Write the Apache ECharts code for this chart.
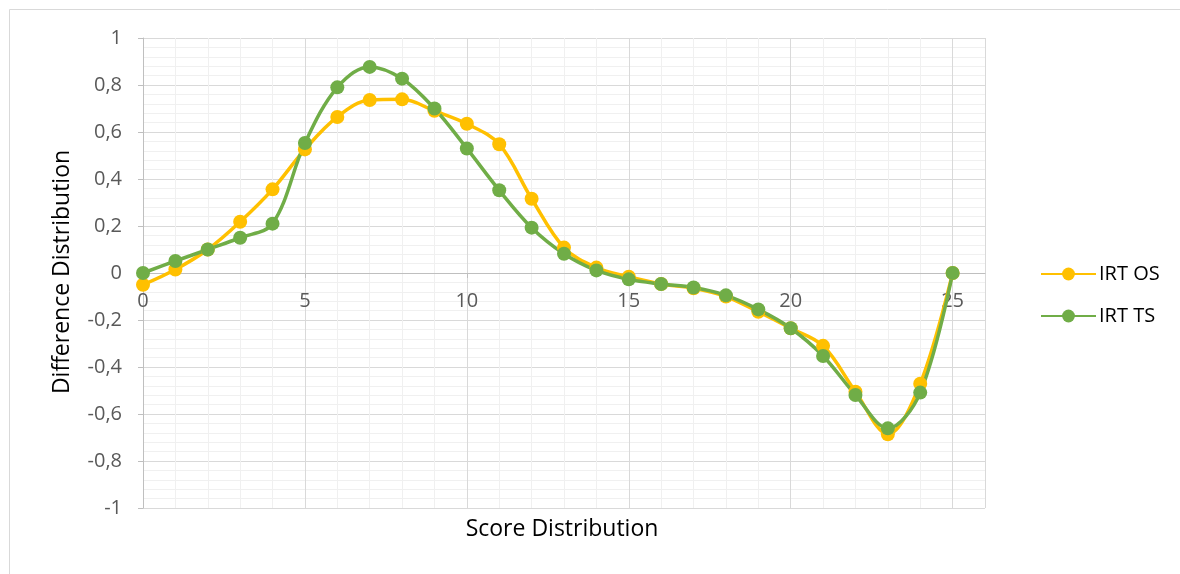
<!DOCTYPE html>
<html>
<head>
<meta charset="utf-8">
<script src="https://cdn.jsdelivr.net/npm/echarts@6/dist/echarts.min.js"></script>
<style>html,body{margin:0;padding:0;background:#fff}#c{width:1180px;height:574px}</style>
</head>
<body>
<div id="c"></div>
<script>
const scores = [0,1,2,3,4,5,6,7,8,9,10,11,12,13,14,15,16,17,18,19,20,21,22,23,24,25];
const irtOS = [-0.05,0.015,0.10,0.218,0.356,0.526,0.664,0.736,0.739,0.69,0.635,0.548,0.316,0.108,0.023,-0.016,-0.047,-0.065,-0.10,-0.165,-0.235,-0.31,-0.505,-0.686,-0.471,0];
const irtTS = [0,0.051,0.10,0.15,0.21,0.553,0.79,0.877,0.827,0.70,0.53,0.352,0.193,0.082,0.011,-0.027,-0.047,-0.062,-0.095,-0.155,-0.235,-0.353,-0.519,-0.661,-0.509,0];
const seriesNames = ['IRT OS','IRT TS'];
const xTitle = 'Score Distribution';
const yTitle = 'Difference Distribution';

const font = '"Open Sans", "Noto Sans", sans-serif';
const chart = echarts.init(document.getElementById('c'));
const pairs = arr => scores.map((s,i)=>[s,arr[i]]);
chart.setOption({
  animation:false,
  backgroundColor:'#fff',
  grid:{left:143,right:195,top:38,bottom:66},
  legend:{
    orient:'vertical', left:1035, top:259, itemGap:22,
    itemWidth:55, itemHeight:16,
    textStyle:{fontFamily:font,fontSize:20,color:'#000',padding:[0,0,0,-2]},
    data:seriesNames
  },
  xAxis:{
    type:'value', min:0, max:26, interval:5,
    position:'bottom', offset:-235,
    axisLine:{onZero:false,lineStyle:{color:'#bfbfbf',width:1}},
    axisTick:{show:true,length:5,lineStyle:{color:'#bfbfbf'}},
    axisLabel:{fontFamily:font,fontSize:20,color:'#595959',margin:18,showMaxLabel:false,
      formatter:v=> (v%5===0? String(v):'')},
    splitLine:{show:true,lineStyle:{color:'#d9d9d9',width:1}},
    minorTick:{show:false,splitNumber:5},
    minorSplitLine:{show:true,lineStyle:{color:'#f0f0f0',width:1}}
  },
  yAxis:{
    type:'value', min:-1, max:1, interval:0.2,
    axisLine:{show:true,lineStyle:{color:'#bfbfbf',width:1}},
    axisTick:{show:true,length:5,lineStyle:{color:'#bfbfbf'}},
    axisLabel:{fontFamily:font,fontSize:20,color:'#595959',margin:21,
      formatter:v=>{const r=Math.round(v*10)/10;return String(r).replace('.',',');}},
    splitLine:{show:true,lineStyle:{color:'#d9d9d9',width:1}},
    minorTick:{show:false,splitNumber:5},
    minorSplitLine:{show:true,lineStyle:{color:'#f0f0f0',width:1}}
  },
  series:[
    {name:seriesNames[0],type:'line',data:pairs(irtOS),smooth:0.35,
     symbol:'circle',symbolSize:14,color:'#FFC000',
     lineStyle:{width:3.5,color:'#FFC000'},itemStyle:{color:'#FFC000'}},
    {name:seriesNames[1],type:'line',data:pairs(irtTS),smooth:0.35,
     symbol:'circle',symbolSize:14,color:'#70AD47',
     lineStyle:{width:3.5,color:'#70AD47'},itemStyle:{color:'#70AD47'}}
  ],
  graphic:[
    {type:'polyline',silent:true,z:-10,
     shape:{points:[[9.5,574],[9.5,9.5],[1180,9.5]]},
     style:{fill:'none',stroke:'#d9d9d9',lineWidth:1}},
    {type:'text',x:562,y:529,
     style:{text:xTitle,font:'23px '+font,fill:'#000',align:'center',verticalAlign:'middle'}},
    {type:'text',x:62,y:272,rotation:Math.PI/2,
     style:{text:yTitle,font:'23px '+font,fill:'#000',align:'center',verticalAlign:'middle'}}
  ]
});
</script>
</body>
</html>
